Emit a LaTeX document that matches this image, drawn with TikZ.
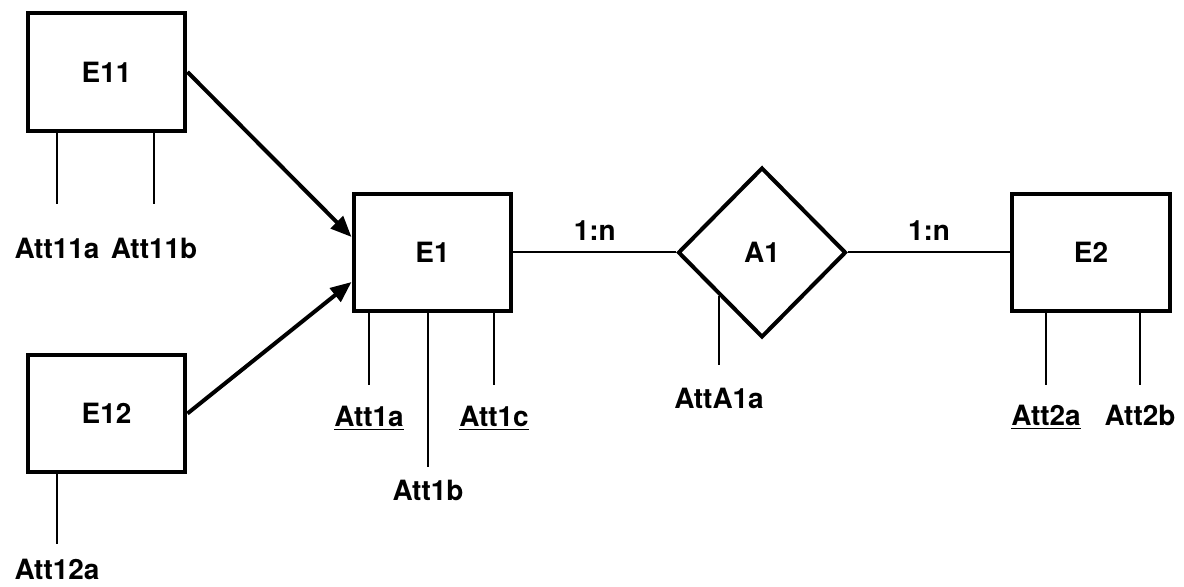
\documentclass[tikz,border=0pt]{standalone}
\usepackage{fontspec}
\setmainfont{TeX Gyre Heros}
\usepackage{tikz}
\usetikzlibrary{calc,positioning,shapes.geometric,arrows.meta}

\tikzset{
  entity/.style={draw, line width=0.08cm, minimum width=3.16cm, minimum height=2.36cm, inner sep=0pt},
  relship/.style={draw, diamond, line width=0.08cm, minimum width=3.36cm, minimum height=3.4cm, inner sep=0pt},
  attr/.style={inner sep=0pt},
  attline/.style={line width=0.04cm},
  isa/.style={line width=0.08cm, -{Triangle[length=0.42cm,width=0.34cm]}},
  card/.style={inner sep=0pt}
}

\begin{document}
\begin{tikzpicture}[x=0.02cm, y=-0.02cm, font=\fontsize{15.9}{19}\selectfont\bfseries]
		\useasboundingbox (0,0) rectangle (1184,587);
		% entities and relationship
		\node[entity] (E11) at (106.5,72) {E11};
		\node[entity] (E12) at (106.5,413.5) {E12};
		\node[entity] (E1) at (432.5,252.5) {E1};
		\node[relship] (A1) at (762,252.5) {A1};
		\node[entity] (E2) at (1091,252.5) {E2};
		% generalisation arrows
		\draw[isa] (E11.east) -- ($(E1.west)+(0,-15.5)$);
		\draw[isa] (E12.east) -- ($(E1.west)+(0,29.5)$);
		% relationship lines
		\draw[attline] (E1.east) -- node[card, midway, above=0.22cm] (card1) {1:n} (A1.west);
		\draw[attline] (A1.east) -- node[card, midway, above=0.22cm] (card2) {1:n} (E2.west);
		% attributes
		\node[attr, anchor=north] (Att11a) at (57,238) {Att11a};
		\node[attr, anchor=north] (Att11b) at (154,238) {Att11b};
		\node[attr, anchor=north] (Att12a) at (57,559) {Att12a};
		\node[attr, anchor=north] (Att1a) at (369,406) {\underline{Att1a}};
		\node[attr, anchor=north] (Att1b) at (428,480) {Att1b};
		\node[attr, anchor=north] (Att1c) at (494,406) {\underline{Att1c}};
		\node[attr, below=1.83cm of A1.south west] (AttA1a) {AttA1a};
		\node[attr, anchor=north] (Att2a) at (1046,405) {\underline{Att2a}};
		\node[attr, anchor=north] (Att2b) at (1140,405) {Att2b};
		\draw[attline] (Att11a.north |- E11.south) -- ($(Att11a.north)+(0,-34)$);
		\draw[attline] (Att11b.north |- E11.south) -- ($(Att11b.north)+(0,-34)$);
		\draw[attline] (Att12a.north |- E12.south) -- ($(Att12a.north)+(0,-15)$);
		\draw[attline] (Att1a.north |- E1.south) -- ($(Att1a.north)+(0,-21)$);
		\draw[attline] (Att1b.north |- E1.south) -- ($(Att1b.north)+(0,-13)$);
		\draw[attline] (Att1c.north |- E1.south) -- ($(Att1c.north)+(0,-21)$);
		\draw[attline] (A1.south west) -- ($(AttA1a.north)+(0,-22)$);
		\draw[attline] (Att2a.north |- E2.south) -- ($(Att2a.north)+(0,-20)$);
		\draw[attline] (Att2b.north |- E2.south) -- ($(Att2b.north)+(0,-20)$);
\end{tikzpicture}
\end{document}
